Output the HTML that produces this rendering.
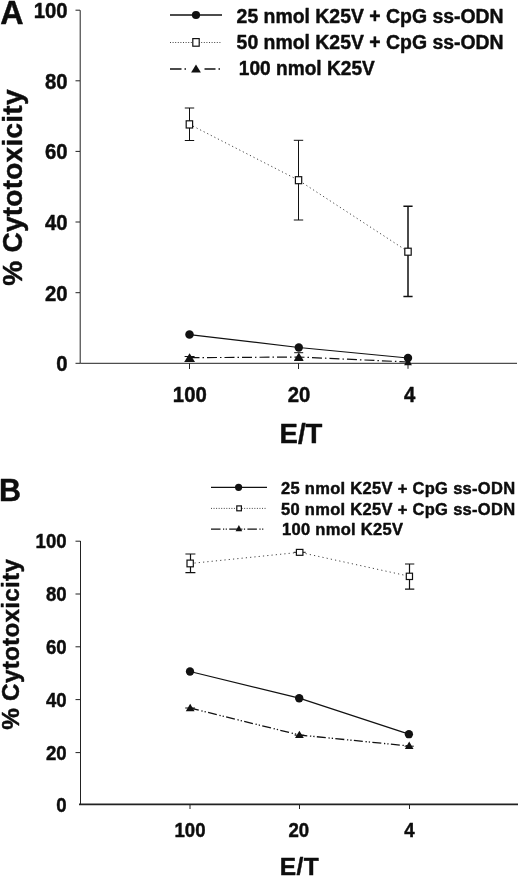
<!DOCTYPE html>
<html><head><meta charset="utf-8"><title>Figure</title>
<style>
html,body{margin:0;padding:0;background:#fff;}
body{width:520px;height:878px;overflow:hidden;}
svg{display:block;filter:blur(0.35px);}
text{font-family:"Liberation Sans",Arial,Helvetica,sans-serif;font-weight:bold;fill:#0d0d0d;stroke:#0d0d0d;stroke-width:0.45;stroke-linejoin:round;}
.ax{stroke:#222;stroke-width:1;fill:none;}
.ln{stroke:#111;stroke-width:1;fill:none;}
.dot{stroke:#444;}
</style></head><body>
<svg width="520" height="878" viewBox="0 0 520 878">
<rect width="520" height="878" fill="#fff"/>

<!-- ===== Panel A ===== -->
<text x="0.3" y="23.8" font-size="32.3" stroke-width="0.8">A</text>
<g class="ax">
<path d="M80.2 10.2V363.3H517"/>
<path d="M75.5 10.2H80M75.5 80.8H80M75.5 151.4H80M75.5 222H80M75.5 292.7H80M75.5 363.3H80"/>
<path d="M189.5 363.3V369M298.5 363.3V369M408 363.3V368.8"/>
</g>
<g font-size="21.5" text-anchor="end">
<text x="67.6" y="17.9" textLength="33.9" lengthAdjust="spacingAndGlyphs">100</text>
<text x="67.6" y="88.6" textLength="22.6" lengthAdjust="spacingAndGlyphs">80</text>
<text x="67.6" y="159.2" textLength="22.6" lengthAdjust="spacingAndGlyphs">60</text>
<text x="67.6" y="229.8" textLength="22.6" lengthAdjust="spacingAndGlyphs">40</text>
<text x="67.6" y="300.6" textLength="22.6" lengthAdjust="spacingAndGlyphs">20</text>
<text x="67.6" y="371.2" textLength="11.3" lengthAdjust="spacingAndGlyphs">0</text>
</g>
<g font-size="21.5" text-anchor="middle">
<text x="189.8" y="401.6" textLength="33.9" lengthAdjust="spacingAndGlyphs">100</text>
<text x="299" y="401.6" textLength="22.6" lengthAdjust="spacingAndGlyphs">20</text>
<text x="409.6" y="401.6" textLength="11.3" lengthAdjust="spacingAndGlyphs">4</text>
</g>
<text x="301" y="443" font-size="27.5" text-anchor="middle">E/T</text>
<text transform="translate(22,187.5) rotate(-90)" font-size="28" text-anchor="middle" letter-spacing="0.25">% Cytotoxicity</text>

<!-- legend A -->
<g class="ln">
<path d="M170 15H222" stroke-width="1.3"/>
<path d="M170 42.5H222" class="dot" stroke-dasharray="1 1.6"/>
<path d="M170 69H181.5M184.5 69H186M204.5 69H215.5M218.5 69H220" stroke-width="1.3"/>
</g>
<circle cx="196" cy="15" r="4.1" fill="#111"/>
<rect x="192.8" y="38.6" width="6.4" height="7.6" fill="#fff" stroke="#111" stroke-width="1.2"/>
<path d="M196 64.6L200.9 72.6H191.1Z" fill="#111"/>
<g font-size="20.7" lengthAdjust="spacingAndGlyphs">
<text x="236.6" y="22.8" textLength="267" lengthAdjust="spacingAndGlyphs">25 nmol K25V + CpG ss-ODN</text>
<text x="236.6" y="49.3" textLength="267" lengthAdjust="spacingAndGlyphs">50 nmol K25V + CpG ss-ODN</text>
<text x="238.8" y="75" textLength="136" lengthAdjust="spacingAndGlyphs">100 nmol K25V</text>
</g>

<!-- data A -->
<g class="ln">
<path d="M189.4 124.3L298.5 180.2L408 251.6" class="dot" stroke-dasharray="1.2 2.8"/>
<path d="M189.5 108V140.5M184.8 108H194.2M184.8 140.5H194.2"/>
<path d="M298.5 140.3V220M293.8 140.3H303.2M293.8 220H303.2"/>
<path d="M408 206.2V296.5M403.4 206.2H412.6M403.4 296.5H412.6" stroke-width="1.5"/>
<path d="M189.5 334.6L298.8 347.5L408 358" stroke-width="1.2"/>
<path d="M189.5 357.7L298.8 357L408 362" stroke-width="1.2" stroke-dasharray="10 3 1.5 3"/>
<path d="M184.6 356.5H194.6M184.6 361.5H194.6M294.2 352.7H303.2M294.2 360.5H303.2"/>
</g>
<g fill="#fff" stroke="#111" stroke-width="1.2">
<rect x="186.2" y="120.8" width="6.4" height="7.2"/>
<rect x="295.4" y="176.7" width="6.3" height="7"/>
<rect x="404.8" y="248.2" width="6.4" height="7"/>
</g>
<g fill="#111">
<circle cx="189.5" cy="334.6" r="4.25"/><circle cx="298.8" cy="347.5" r="4.2"/><circle cx="408" cy="358" r="4.2"/>
<path d="M189.6 353.3L194.7 361.6H184.5Z"/><path d="M298.8 352.6L303.6 360.4H294Z"/><path d="M408 357.5L411.9 365.2H404.1Z"/>
</g>

<!-- ===== Panel B ===== -->
<text x="-1" y="501.3" font-size="32" stroke-width="0.7" textLength="22" lengthAdjust="spacingAndGlyphs">B</text>
<g class="ax">
<path d="M80.5 541V804"/>
<path d="M79 804.4H518" stroke-width="1.6"/>
<path d="M75.5 541.2H80.5M75.5 594H80.5M75.5 646.8H80.5M75.5 699.6H80.5M75.5 752.6H80.5"/>
<path d="M190 804V809M299.5 804V809M409.5 804V809"/>
</g>
<g font-size="19.6" text-anchor="end">
<text x="66.6" y="547.9" textLength="31" lengthAdjust="spacingAndGlyphs">100</text>
<text x="66.6" y="600.8" textLength="20.7" lengthAdjust="spacingAndGlyphs">80</text>
<text x="66.6" y="653.7" textLength="20.7" lengthAdjust="spacingAndGlyphs">60</text>
<text x="66.6" y="706.7" textLength="20.7" lengthAdjust="spacingAndGlyphs">40</text>
<text x="66.6" y="759.7" textLength="20.7" lengthAdjust="spacingAndGlyphs">20</text>
<text x="66.6" y="812.2" textLength="10.35" lengthAdjust="spacingAndGlyphs">0</text>
</g>
<g font-size="19.6" text-anchor="middle">
<text x="190" y="837.2" textLength="31" lengthAdjust="spacingAndGlyphs">100</text>
<text x="298.8" y="837.2" textLength="20.7" lengthAdjust="spacingAndGlyphs">20</text>
<text x="409.5" y="837.2" textLength="10.35" lengthAdjust="spacingAndGlyphs">4</text>
</g>
<text x="299.5" y="875" font-size="24.5" text-anchor="middle" letter-spacing="0.5">E/T</text>
<text transform="translate(19,644.3) rotate(-90)" font-size="24.3" text-anchor="middle" letter-spacing="0.25">% Cytotoxicity</text>

<!-- legend B -->
<g class="ln">
<path d="M211 487.3H267" stroke-width="1.2"/>
<path d="M211 508.4H266" class="dot" stroke-dasharray="1 1.55"/>
<path d="M211 529.1H265" stroke-width="1.2" stroke-dasharray="9.5 2.5 1.2 1.5 1.2 2.3"/>
</g>
<circle cx="238.6" cy="487.3" r="3.6" fill="#111"/>
<rect x="236.8" y="505.9" width="4.6" height="4.9" fill="#fff" stroke="#111" stroke-width="1.2"/>
<path d="M238.9 524.9L242.2 531.3H235.6Z" fill="#111"/>
<g font-size="16.5" letter-spacing="0.3">
<text x="281" y="494">25 nmol K25V + CpG ss-ODN</text>
<text x="281" y="514.6">50 nmol K25V + CpG ss-ODN</text>
<text x="282" y="535.2">100 nmol K25V</text>
</g>

<!-- data B -->
<g class="ln">
<path d="M190.2 563.5L299.7 552.3L409.5 576.3" class="dot" stroke-dasharray="1.2 3.1"/>
<path d="M190.5 554V572.7M185.4 554H195.4M185.4 572.7H195.4" stroke-width="1.2"/>
<path d="M293.8 552.3H305.7"/>
<path d="M409.5 564V589.2M405 564H414.3M405 589.2H414.3" stroke-width="1.2"/>
<path d="M190 671.5L299.2 698.2L408.9 734.2" stroke-width="1.25"/>
<path d="M190 708L299.4 735L409 746" stroke-width="1.3" stroke-dasharray="9 2.7 1.3 2 1.3 2.3"/>
<path d="M185.2 708H195M294.6 735.2H304.2M404.6 746.2H413.8"/>
</g>
<g fill="#fff" stroke="#111" stroke-width="1.2">
<rect x="187" y="560.1" width="6.3" height="6.7"/>
<rect x="296.4" y="549.4" width="6.5" height="5.9"/>
<rect x="406.3" y="573.2" width="6.2" height="6.3"/>
</g>
<g fill="#111">
<circle cx="190" cy="671.5" r="4.15"/><circle cx="299.2" cy="698.2" r="4.2"/><circle cx="408.9" cy="734.2" r="4.15"/>
<path d="M190.2 703.8L194.6 711.2H185.8Z"/><path d="M299.4 730.8L303.8 738H295Z"/><path d="M409.2 741.5L413.5 748.9H404.9Z"/>
</g>
</svg>
</body></html>
